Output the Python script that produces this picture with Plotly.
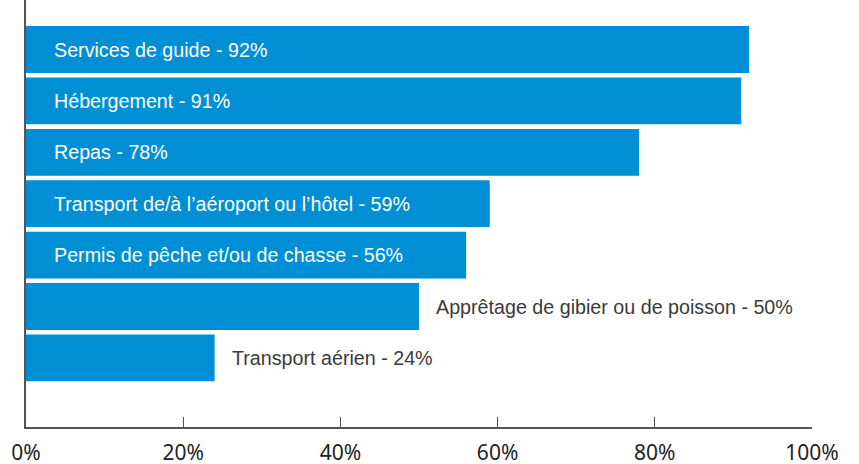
import plotly.graph_objects as go

categories = [
    "Services de guide",
    "Hébergement",
    "Repas",
    "Transport de/à l’aéroport ou l’hôtel",
    "Permis de pêche et/ou de chasse",
    "Apprêtage de gibier ou de poisson",
    "Transport aérien",
]
values = [92, 91, 78, 59, 56, 50, 24]
tick_vals = [0, 20, 40, 60, 80, 100]
tick_text = ["0%", "20%", "40%", "60%", "80%", "100%"]

BAR_COLOR = "#008FD5"
AXIS_COLOR = "#555555"

fig = go.Figure()
fig.add_trace(go.Bar(
    x=values,
    y=categories,
    orientation="h",
    marker=dict(color=BAR_COLOR, line=dict(width=0)),
    width=0.91,
    hoverinfo="skip",
))

annotations = []
for cat, v in zip(categories, values):
    label = f"{cat} - {v}%"
    if v > 52:
        annotations.append(dict(
            x=0, y=cat, xref="x", yref="y", text=label, showarrow=False,
            xanchor="left", yanchor="middle", xshift=26,
            font=dict(family="Liberation Sans, Arial, sans-serif", size=19.7, color="white"),
        ))
    else:
        annotations.append(dict(
            x=v, y=cat, xref="x", yref="y", text=label, showarrow=False,
            xanchor="left", yanchor="middle", xshift=15,
            font=dict(family="Liberation Sans, Arial, sans-serif", size=19.7, color="#3a3a3a"),
        ))

fig.update_layout(
    width=859, height=464,
    margin=dict(l=26, r=47, t=0, b=37, autoexpand=False),
    paper_bgcolor="white",
    plot_bgcolor="white",
    showlegend=False,
    annotations=annotations,
    xaxis=dict(
        range=[0, 100],
        tickvals=tick_vals,
        ticktext=tick_text,
        ticks="inside",
        ticklen=10,
        tickwidth=1.3,
        tickcolor=AXIS_COLOR,
        showline=True,
        linecolor=AXIS_COLOR,
        linewidth=1.5,
        showgrid=False,
        zeroline=False,
        automargin=False,
        tickfont=dict(family="Noto Sans, Open Sans, sans-serif", size=21, color="#222222"),
        ticklabelstandoff=6,
        fixedrange=True,
    ),
    yaxis=dict(
        type="category",
        categoryorder="array",
        categoryarray=categories,
        range=[7.344, -0.963],
        showticklabels=False,
        ticks="",
        showline=True,
        linecolor=AXIS_COLOR,
        linewidth=1.5,
        showgrid=False,
        zeroline=False,
        automargin=False,
        fixedrange=True,
    ),
)

fig.write_html(
    "out.html",
    config={"displayModeBar": False},
    post_script="document.body.style.margin='0';document.body.style.overflow='hidden';",
)
